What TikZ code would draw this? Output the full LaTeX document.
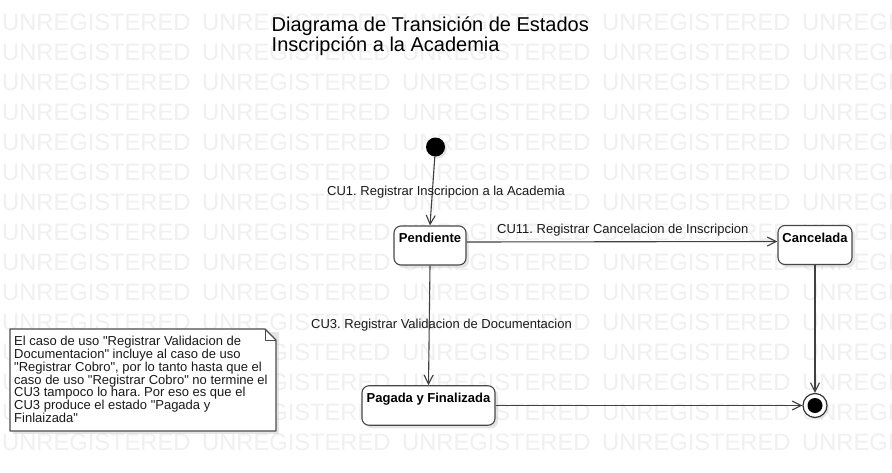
\documentclass[tikz,border=0pt]{standalone}
\usepackage{fontspec}
\setmainfont{Liberation Sans}[Ligatures=TeXOff]
\usetikzlibrary{arrows.meta,shadows}
\frenchspacing
\tikzset{
  wm/.style={font=\fontsize{23.7}{24}\selectfont, text=black!6, inner sep=0pt},
  statebox/.style={draw=black!72, line width=1.1pt, fill=white, rounded corners=7pt,
    font=\fontsize{13}{15}\selectfont\bfseries, text height=14.5pt, text depth=20pt,
    inner ysep=2.25pt, inner xsep=0pt,
    drop shadow={shadow xshift=3pt, shadow yshift=-3pt, fill=black!25, opacity=0.4}},
  lbl/.style={font=\fontsize{13}{15}\selectfont, inner sep=0pt, text=black!90},
  conn/.style={draw=black!75, line width=1.1pt, -{Straight Barb[length=9pt,width=9pt]}},
  notetext/.style={font=\fontsize{13}{12.8}\selectfont, align=left, inner sep=0pt, text=black!90},
  noteline/.style={draw=black!70, line width=1.1pt, fill=white, line join=round},
}
\begin{document}
\begin{tikzpicture}[x=1pt,y=-1pt]
\useasboundingbox (0,0) rectangle (892,472);
\fill[white] (0,0) rectangle (892,472);
% watermark
\begin{scope}
\clip (0,0) rectangle (892,472);
\foreach \r in {0,...,14}{
  \foreach \c in {0,...,4}{
    \node[wm, anchor=base west] (wm-\r-\c) at ({2+200*\c},{30.2+30*\r}) {UNREGISTERED};
  }
}
\end{scope}
% title
\node[anchor=base west, inner sep=0pt, font=\fontsize{20}{20}\selectfont] (title1) at (271.5,31.5) {Diagrama de Transición de Estados};
\node[anchor=base west, inner sep=0pt, font=\fontsize{20}{20}\selectfont] (title2) at (271.5,51) {Inscripción a la Academia};
% states
\node[circle, fill=black, minimum size=19pt, inner sep=0pt,
  drop shadow={shadow xshift=2pt, shadow yshift=-2pt, fill=black!25, opacity=0.4}] (init) at (435.5,147) {};
\node[statebox, minimum width=72pt] (pend) at (430,245.5) {Pendiente};
\node[statebox, minimum width=74pt] (canc) at (815,245) {Cancelada};
\node[statebox, minimum width=133pt, text depth=20.5pt] (pag) at (428.5,405.5) {Pagada y Finalizada};
\node[circle, draw=black!80, line width=1.2pt, fill=white, minimum size=24pt, inner sep=0pt,
  drop shadow={shadow xshift=2pt, shadow yshift=-2pt, fill=black!25, opacity=0.4}] (fin) at (815,405.5) {};
\node[circle, fill=black, minimum size=15pt, inner sep=0pt] (finin) at (fin) {};
% connectors
\draw[conn] (init) -- (pend.north);
\draw[conn] ([yshift=3.5pt]pend.east) -- ([yshift=3.5pt]canc.west);
\draw[conn] (pend.south) -- (pag.north);
\draw[conn] (canc.south) -- (fin.north);
\draw[conn] (pag.east) -- (fin.west);
% labels
\node[lbl, anchor=base west] (l1) at (327,195) {CU1. Registrar Inscripcion a la Academia};
\node[lbl, anchor=base west] (l11) at (497,233.5) {CU11. Registrar Cancelacion de Inscripcion};
\node[lbl, anchor=base west] (l3) at (311,328.5) {CU3. Registrar Validacion de Documentacion};
% note
\coordinate (nNW) at (10,329);
\coordinate (nSE) at (276,431);
\coordinate (nF1) at (265,329);
\coordinate (nF2) at (276,340);
\coordinate (nF3) at (265,340);
\fill[black!25, opacity=0.4] (13,332) rectangle (279,434);
\draw[noteline] (nNW) -- (nF1) -- (nF2) -- (nSE) -- (nNW |- nSE) -- cycle;
\draw[draw=black!70, line width=1pt, line join=round] (nF1) -- (nF3) -- (nF2);
\node[notetext, anchor=north west] (notetxt) at (14,336) {El caso de uso "Registrar Validacion de\\Documentacion" incluye al caso de uso\\"Registrar Cobro", por lo tanto hasta que el\\caso de uso "Registrar Cobro" no termine el\\CU3 tampoco lo hara. Por eso es que el\\CU3 produce el estado "Pagada y\\Finlaizada"};
\end{tikzpicture}
\end{document}
